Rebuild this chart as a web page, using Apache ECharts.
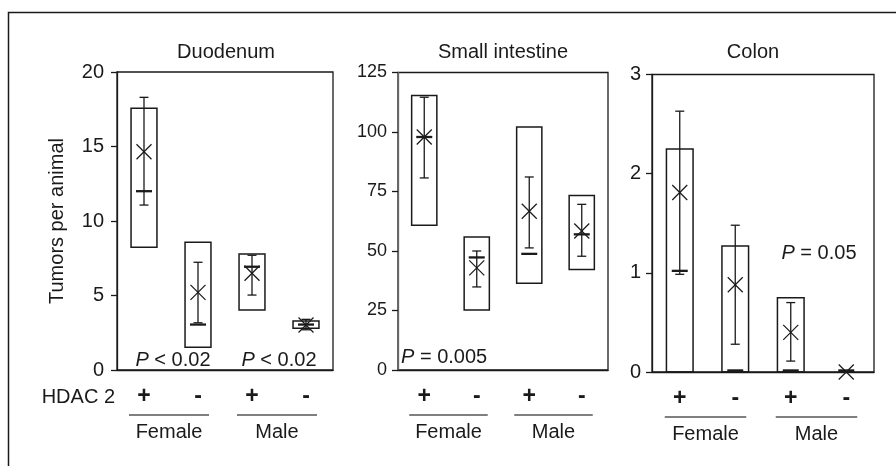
<!DOCTYPE html>
<html>
<head>
<meta charset="utf-8">
<script src="https://cdn.jsdelivr.net/npm/echarts@6/dist/echarts.min.js"></script>
<style>html,body{margin:0;padding:0;background:#fff}#c{width:896px;height:466px}</style>
</head>
<body>
<div id="c"></div>
<script>
// ---- data ----
const panelTitles = ['Duodenum', 'Small intestine', 'Colon'];
const hdacCats = ['+', '-', '+', '-'];
const sexGroups = ['Female', 'Male'];
const yMax = [20, 125, 3];
const yStep = [5, 25, 1];

// Duodenum
const duoBoxLow  = [8.23, 1.52, 4.03, 2.80];
const duoBoxHigh = [17.56, 8.57, 7.79, 3.29];
const duoErrLow  = [11.07, 3.17, 5.03, 2.70];
const duoErrHigh = [18.30, 7.23, 7.70, 3.40];
const duoMean    = [14.65, 5.21, 6.49, 3.02];
const duoMedian  = [12.00, 3.05, 6.93, 3.05];

// Small intestine
const siBoxLow  = [60.8, 25.2, 36.4, 42.2];
const siBoxHigh = [115.3, 55.9, 102.1, 73.3];
const siErrLow  = [80.7, 34.9, 51.3, 47.8];
const siErrHigh = [114.6, 50.0, 81.1, 69.6];
const siMean    = [97.9, 42.9, 66.7, 58.4];
const siMedian  = [97.9, 47.3, 48.8, 57.0];

// Colon
const coBoxLow  = [0, 0, 0, 0];
const coBoxHigh = [2.25, 1.27, 0.75, 0];
const coErrLow  = [0.985, 0.28, 0.11, 0];
const coErrHigh = [2.63, 1.48, 0.70, 0];
const coMean    = [1.81, 0.88, 0.40, 0];
const coMedian  = [1.02, 0, 0, 0];

const pLabels = ['P < 0.02', 'P < 0.02', 'P = 0.005', 'P = 0.05'];

// ---- chart ----
const FONT = "'Liberation Sans', Arial, sans-serif";
const INK = '#1a1a1a';
const panels = [
  [duoBoxLow, duoBoxHigh, duoErrLow, duoErrHigh, duoMean, duoMedian],
  [siBoxLow, siBoxHigh, siErrLow, siErrHigh, siMean, siMedian],
  [coBoxLow, coBoxHigh, coErrLow, coErrHigh, coMean, coMedian]
];
const gridBoxes = [
  {left: 117, top: 72, width: 216, height: 298},
  {left: 398, top: 72.5, width: 210, height: 297.5},
  {left: 652, top: 74.5, width: 222, height: 297.5}
];
const titleCenters = [226, 503, 753];

function boxRender(params, api) {
  const x = api.value(0);
  const bw = api.size([1, 0])[0] * 0.48;
  const pt = v => api.coord([x, v]);
  const cx = pt(0)[0];
  const lo = api.value(1), hi = api.value(2), el = api.value(3), eh = api.value(4), mn = api.value(5), md = api.value(6);
  const ch = [];
  if (hi > lo) {
    const t = pt(hi)[1], b = pt(lo)[1];
    ch.push({type: 'rect', shape: {x: cx - bw / 2, y: t, width: bw, height: b - t},
      style: {fill: 'none', stroke: INK, lineWidth: 1.5}});
  }
  if (eh > el) {
    const t = pt(eh)[1], b = pt(el)[1];
    ch.push({type: 'line', shape: {x1: cx, y1: t, x2: cx, y2: b}, style: {stroke: INK, lineWidth: 1.3}});
    ch.push({type: 'line', shape: {x1: cx - 4.5, y1: t, x2: cx + 4.5, y2: t}, style: {stroke: INK, lineWidth: 1.3}});
    ch.push({type: 'line', shape: {x1: cx - 4.5, y1: b, x2: cx + 4.5, y2: b}, style: {stroke: INK, lineWidth: 1.3}});
  }
  const ym = pt(md)[1];
  ch.push({type: 'line', shape: {x1: cx - 8, y1: ym - (md === 0 ? 1.2 : 0), x2: cx + 8, y2: ym - (md === 0 ? 1.2 : 0)},
    style: {stroke: INK, lineWidth: md === 0 ? 3 : 2.3}});
  const yy = pt(mn)[1], s = 7.5;
  ch.push({type: 'line', shape: {x1: cx - s, y1: yy - s, x2: cx + s, y2: yy + s}, style: {stroke: INK, lineWidth: 1.2}});
  ch.push({type: 'line', shape: {x1: cx - s, y1: yy + s, x2: cx + s, y2: yy - s}, style: {stroke: INK, lineWidth: 1.2}});
  return {type: 'group', children: ch};
}

function groupRender(params, api) {
  const a = api.coord([api.value(0), 0]);
  const b = api.coord([api.value(1), 0]);
  const y = a[1] + 45;
  return {type: 'group', children: [
    {type: 'line', shape: {x1: a[0] - 15, y1: y, x2: b[0] + 11, y2: y}, style: {stroke: '#555', lineWidth: 1.5}},
    {type: 'text', x: (a[0] - 15 + b[0] + 11) / 2, y: y + 17,
      style: {text: sexGroups[params.dataIndex], fill: INK, font: '20px ' + FONT, align: 'center', verticalAlign: 'middle'}}
  ]};
}

const grid = [], xAxis = [], yAxis = [], series = [], title = [];
for (let p = 0; p < 3; p++) {
  grid.push(Object.assign({show: true, borderColor: INK, borderWidth: 1.3, backgroundColor: 'transparent'}, gridBoxes[p]));
  title.push({text: panelTitles[p], left: titleCenters[p], top: 42, padding: 0, textAlign: 'center',
    textStyle: {fontFamily: FONT, fontSize: 20, fontWeight: 'normal', color: INK}});
  xAxis.push({type: 'category', gridIndex: p, data: hdacCats, boundaryGap: true,
    axisLine: {show: true, lineStyle: {color: INK, width: 1.3}}, axisTick: {show: false},
    axisLabel: {margin: 15, fontSize: 23, fontWeight: 'bold', color: INK, fontFamily: FONT}});
  yAxis.push({type: 'value', gridIndex: p, min: 0, max: yMax[p], interval: yStep[p],
    axisLine: {show: true, lineStyle: {color: p === 1 ? '#666' : INK, width: 1.3}},
    axisTick: {show: true, inside: false, length: 6, lineStyle: {color: INK, width: 1.3}},
    splitLine: {show: false},
    axisLabel: {margin: p === 0 ? 13 : 11, fontSize: p === 1 ? 18 : 20, color: INK, fontFamily: FONT},
    name: p === 0 ? 'Tumors per animal' : '', nameLocation: 'middle', nameGap: 50,
    nameTextStyle: {fontSize: 20, color: INK, fontFamily: FONT}});
  const d = panels[p];
  const data = hdacCats.map((c, i) => [i, d[0][i], d[1][i], d[2][i], d[3][i], d[4][i], d[5][i]]);
  series.push({type: 'custom', xAxisIndex: p, yAxisIndex: p, renderItem: boxRender, data: data,
    encode: {x: 0, y: [1, 2, 3, 4, 5, 6]}, clip: false, silent: true, z: 5});
  series.push({type: 'custom', xAxisIndex: p, yAxisIndex: p, renderItem: groupRender,
    data: [[0, 1, 0], [2, 3, 0]], encode: {x: [0, 1], y: 2}, clip: false, silent: true});
}

function pText(str, x, y, align) {
  const parts = str.split(' ');
  return {type: 'text', x: x, y: y, style: {
    text: '{i|' + parts[0] + '} ' + parts.slice(1).join(' '),
    rich: {i: {fontStyle: 'italic', fontSize: 20, fontFamily: FONT, fill: INK}},
    font: '20px ' + FONT, fill: INK, align: align, verticalAlign: 'middle'}};
}

const chart = echarts.init(document.getElementById('c'), null, {renderer: 'canvas'});
chart.setOption({
  animation: false,
  backgroundColor: '#fff',
  title: title, grid: grid, xAxis: xAxis, yAxis: yAxis, series: series,
  graphic: [
    {type: 'rect', shape: {x: 8.5, y: 12.5, width: 1000, height: 1000}, style: {fill: 'none', stroke: INK, lineWidth: 1.5}, silent: true},
    {type: 'text', x: 115, y: 397, style: {text: 'HDAC 2', font: '20px ' + FONT, fill: INK, align: 'right', verticalAlign: 'middle'}},
    pText(pLabels[0], 173, 360, 'center'),
    pText(pLabels[1], 279, 360, 'center'),
    pText(pLabels[2], 401, 357, 'left'),
    pText(pLabels[3], 819, 253, 'center')
  ]
});
</script>
</body>
</html>
